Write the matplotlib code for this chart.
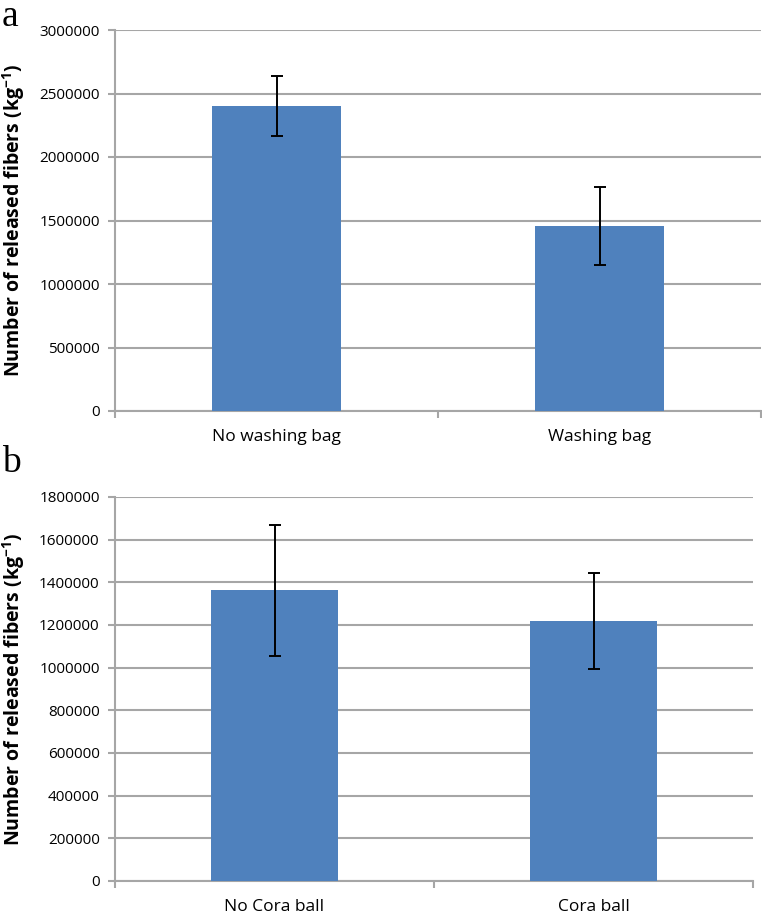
import matplotlib.pyplot as plt
import numpy as np

# data
cats_a = ["No washing bag", "Washing bag"]
vals_a = [2400000, 1457000]
err_a = [236000, 307000]

cats_b = ["No Cora ball", "Cora ball"]
vals_b = [1362000, 1219000]
err_b = [306000, 225000]

ylim_a = 3000000
ystep_a = 500000
ylim_b = 1800000
ystep_b = 200000

bar_color = "#4F81BD"
grid_color = "#A6A6A6"
font = ["Open Sans", "DejaVu Sans"]

plt.rcParams["mathtext.fontset"] = "custom"
plt.rcParams["mathtext.rm"] = "Open Sans"
plt.rcParams["mathtext.bf"] = "Open Sans:bold"

fig = plt.figure(figsize=(7.62, 9.14), dpi=100)
ax_a = fig.add_axes([115 / 762, 1 - 411 / 914, 646 / 762, 381 / 914])
ax_b = fig.add_axes([115 / 762, 1 - 881 / 914, 638 / 762, 384 / 914])


def draw_panel(ax, cats, vals, errs, ymax, ystep):
    x = np.arange(len(cats))
    ax.bar(x, vals, width=0.4, color=bar_color, zorder=3)
    ax.errorbar(x, vals, yerr=errs, fmt="none", ecolor="black",
                elinewidth=1.4, capsize=4, capthick=1.4, zorder=4)
    ax.set_xlim(-0.5, len(cats) - 0.5)
    ax.set_ylim(0, ymax)
    yt = np.arange(0, ymax + 1, ystep)
    ax.set_yticks(yt)
    ax.set_yticklabels([str(int(v)) for v in yt], fontfamily=font, fontsize=11)
    ax.yaxis.grid(True, color=grid_color, linewidth=1.5, zorder=0)
    ax.set_axisbelow(True)

    ax.set_xticks(x)
    ax.set_xticklabels(cats, fontfamily=font, fontsize=12.5)
    ax.tick_params(axis="x", which="major", length=0, pad=13)
    ax.set_xticks(np.arange(-0.5, len(cats), 1.0), minor=True)
    ax.tick_params(axis="x", which="minor", length=5, width=1.5,
                   color=grid_color, direction="out")
    ax.tick_params(axis="y", length=5, width=1.5, color=grid_color, pad=6)

    for s in ["top", "right"]:
        ax.spines[s].set_visible(False)
    for s in ["left", "bottom"]:
        ax.spines[s].set_color(grid_color)
        ax.spines[s].set_linewidth(1.5)

    ax.set_ylabel("Number of released fibers (kg$^{\\mathbf{-1}}$)",
                  fontfamily=font, fontsize=14, fontweight="bold")
    ax.yaxis.set_label_coords(-88 / (ax.get_position().width * 762), 0.5)


draw_panel(ax_a, cats_a, vals_a, err_a, ylim_a, ystep_a)
draw_panel(ax_b, cats_b, vals_b, err_b, ylim_b, ystep_b)

fig.text(2 / 762, 1 - 0 / 914, "a", family="Liberation Serif", fontsize=27,
         va="top", ha="left")
fig.text(2 / 762, 1 - 446 / 914, "b", family="Liberation Serif", fontsize=27,
         va="top", ha="left")

fig.savefig("out.png", dpi=100)
